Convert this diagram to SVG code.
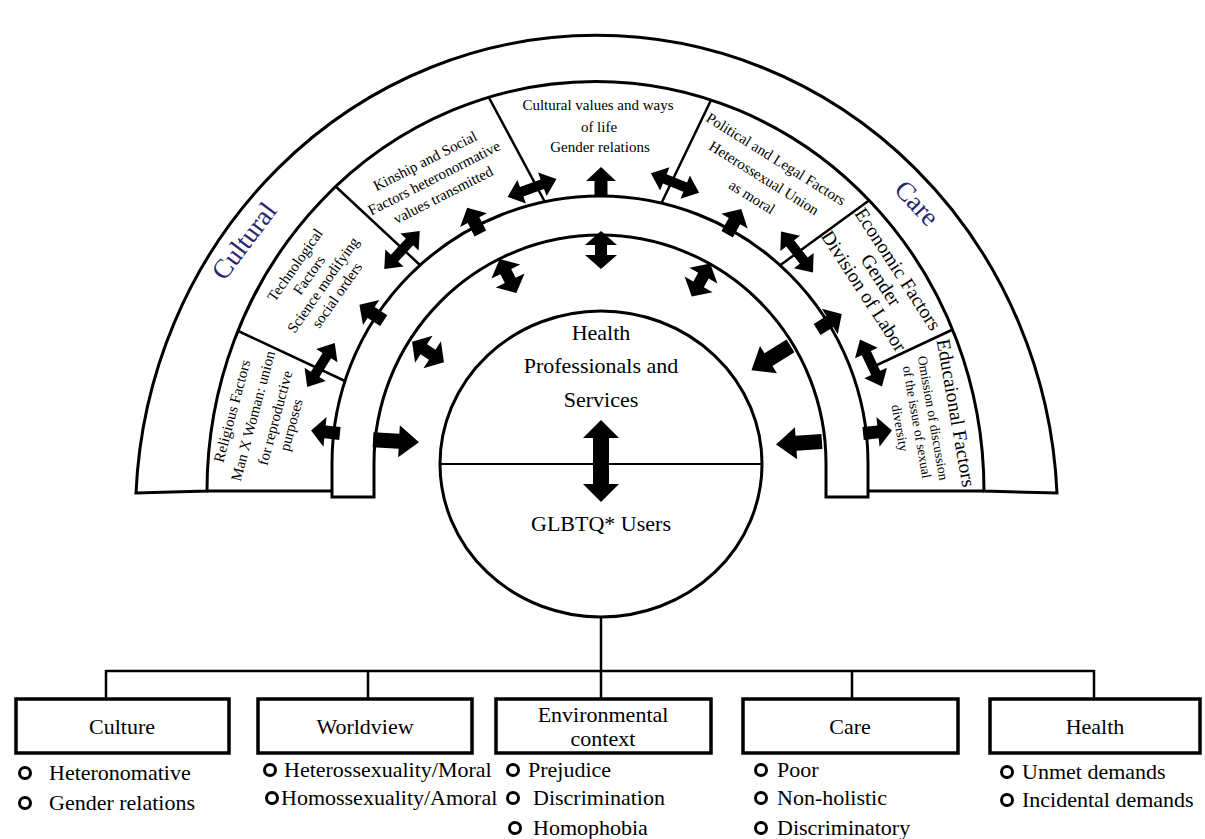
<svg xmlns="http://www.w3.org/2000/svg" xmlns:xlink="http://www.w3.org/1999/xlink" width="1205" height="839" viewBox="0 0 1205 839">
<style>
text{font-family:"Liberation Serif","Times New Roman",serif;fill:#000;}
.f15{font-size:15px;text-anchor:middle;}
.f13{font-size:13.5px;text-anchor:middle;}
.f19{font-size:19.5px;text-anchor:middle;}
.f22{font-size:22px;}
.mid{text-anchor:middle;}
.lbl{font-size:27px;text-anchor:middle;fill:#27276f;}
.ln{fill:none;stroke:#000;stroke-width:3;}
.ln2{fill:none;stroke:#000;stroke-width:2.5;}
.shape{fill:#fff;stroke:#000;stroke-width:3;}
.box{fill:#fff;stroke:#000;stroke-width:3.5;}
.bul{fill:none;stroke:#000;stroke-width:3;}
.arr{fill:#000;}
</style>
<defs>
<path id="sgl" d="M-14,-6.5 H1 V-15 L15,0 L1,15 V6.5 H-14 Z"/>
<path id="sglL" d="M-23,-7.5 H3 V-16 L23,0 L3,16 V7.5 H-23 Z"/>
<path id="dbl" d="M-26,0 L-11,-12.5 V-5 H11 V-12.5 L26,0 L11,12.5 V5 H-11 V12.5 Z"/>
<path id="dblS" d="M-19,0 L-5,-16 V-6 H5 V-16 L19,0 L5,16 V6 H-5 V16 Z"/>
<path id="dblC" d="M0,-41 L18,-23 H8 V23 H18 L0,41 L-18,23 H-8 V-23 H-18 Z"/>
</defs>
<rect width="1205" height="839" fill="#fff"/>

<g id="factor-dividers">
<line class="ln2" x1="345" y1="381" x2="236" y2="330"/>
<line class="ln2" x1="421" y1="266" x2="333" y2="184"/>
<line class="ln2" x1="546" y1="204" x2="487" y2="94"/>
<line class="ln2" x1="661" y1="204" x2="713" y2="96"/>
<line class="ln2" x1="775" y1="269" x2="871" y2="199"/>
<line class="ln2" x1="877" y1="365" x2="956" y2="328"/>
<line class="ln" x1="207" y1="491" x2="333" y2="491"/>
<line class="ln" x1="867" y1="491" x2="984" y2="491"/>
</g>

<g id="outer-ring">
<path class="shape" d="M136,493 A461,480 0 0 1 1057,493 L984,491 A388,409 0 0 0 207,491 Z"/>
<text class="lbl" transform="translate(244,241) rotate(-53)" y="9">Cultural</text>
<text class="lbl" transform="translate(917,203) rotate(47)" y="9">Care</text>
</g>

<g id="band">
<path class="shape" d="M332,497 V463 A268,267 0 0 1 868,463 V497 H826 V463 A226,228 0 0 0 374,463 V497 Z"/>
</g>

<g id="factor-religious">
<text class="f15" transform="translate(232,411) rotate(-75)" y="5">Religious Factors</text>
<text class="f15" transform="translate(253,416) rotate(-75)" y="5">Man X Woman: union</text>
<text class="f15" transform="translate(275,418) rotate(-75)" y="5">for reproductive</text>
<text class="f15" transform="translate(291,425) rotate(-75)" y="5">purposes</text>
</g>
<g id="factor-technological">
<text class="f15" transform="translate(295,265) rotate(-55)" y="5">Technological</text>
<text class="f15" transform="translate(309,275) rotate(-55)" y="5">Factors</text>
<text class="f15" transform="translate(323,285) rotate(-55)" y="5">Science modifying</text>
<text class="f15" transform="translate(337,295) rotate(-55)" y="5">social orders</text>
</g>
<g id="factor-kinship">
<text class="f15" transform="translate(425,161) rotate(-27)" y="5">Kinship and Social</text>
<text class="f15" transform="translate(434,178) rotate(-27)" y="5">Factors heteronormative</text>
<text class="f15" transform="translate(443,195) rotate(-27)" y="5">values transmitted</text>
</g>
<g id="factor-cultural-values">
<text class="f15" x="598" y="110">Cultural values and ways</text>
<text class="f15" x="599" y="132">of life</text>
<text class="f15" x="600" y="152">Gender relations</text>
</g>
<g id="factor-political">
<text class="f15" transform="translate(776,159) rotate(32)" y="5">Political and Legal Factors</text>
<text class="f15" transform="translate(764,178) rotate(32)" y="5">Heterossexual Union</text>
<text class="f15" transform="translate(752,197) rotate(32)" y="5">as moral</text>
</g>
<g id="factor-economic">
<text class="f19" transform="translate(898,269) rotate(57)" y="6.5">Economic Factors</text>
<text class="f19" transform="translate(881,280) rotate(57)" y="6.5">Gender</text>
<text class="f19" transform="translate(864,291) rotate(57)" y="6.5">Division of Labor</text>
</g>
<g id="factor-educational">
<text class="f19" transform="translate(956,413) rotate(80)" y="6.5">Educaional Factors</text>
<text class="f13" transform="translate(933,418) rotate(80)" y="4.5">Omission of discussion</text>
<text class="f13" transform="translate(917,422) rotate(80)" y="4.5">of the issue of sexual</text>
<text class="f13" transform="translate(900,428) rotate(80)" y="4.5">diversity</text>
</g>

<g id="center-circle">
<ellipse class="shape" cx="601" cy="464" rx="161" ry="153" stroke-width="2.5"/>
<line x1="440" y1="464" x2="762" y2="464" stroke="#000" stroke-width="2"/>
<text class="f22 mid" x="601" y="340">Health</text>
<text class="f22 mid" x="601" y="373">Professionals and</text>
<text class="f22 mid" x="601" y="407">Services</text>
<text class="f22 mid" x="601" y="531">GLBTQ* Users</text>
</g>

<g id="connectors">
<g class="arr">
<use href="#sgl" transform="translate(326,432) rotate(186)"/>
<use href="#sgl" transform="translate(372,313) rotate(-147)"/>
<use href="#sgl" transform="translate(474,221) rotate(-117)"/>
<use href="#sgl" transform="translate(601,182) rotate(-90)"/>
<use href="#sgl" transform="translate(734,222) rotate(-61)"/>
<use href="#sgl" transform="translate(829,322) rotate(-32)"/>
<use href="#sgl" transform="translate(877,432) rotate(-6)"/>
<use href="#dbl" transform="translate(321,365) rotate(-58)"/>
<use href="#dbl" transform="translate(402,250) rotate(-47)"/>
<use href="#dbl" transform="translate(532,188) rotate(-20)"/>
<use href="#dbl" transform="translate(675,183) rotate(22)"/>
<use href="#dbl" transform="translate(797,252) rotate(52)"/>
<use href="#dbl" transform="translate(871,363) rotate(65)"/>
<use href="#sglL" transform="translate(396,441) rotate(3)"/>
<use href="#dblS" transform="translate(428,352) rotate(33)"/>
<use href="#dblS" transform="translate(508,276) rotate(64)"/>
<use href="#dblS" transform="translate(601,250) rotate(90)"/>
<use href="#dblS" transform="translate(701,280) rotate(119)"/>
<use href="#sglL" transform="translate(771,358) rotate(148)"/>
<use href="#sglL" transform="translate(799,443) rotate(176)"/>
<use href="#dblC" transform="translate(601,461)"/>
</g>
<g class="ln2">
<line x1="601" y1="617" x2="601" y2="671"/>
<line x1="106" y1="671" x2="1094" y2="671"/>
<line x1="106" y1="670" x2="106" y2="699"/>
<line x1="368" y1="670" x2="368" y2="699"/>
<line x1="601" y1="670" x2="601" y2="699"/>
<line x1="852" y1="670" x2="852" y2="699"/>
<line x1="1094" y1="670" x2="1094" y2="699"/>
</g>
</g>

<g id="box-culture">
<rect class="box" x="16" y="699" width="213" height="54"/>
<text class="f22 mid" x="122" y="734">Culture</text>
<circle class="bul" cx="25" cy="773" r="5.5"/>
<text class="f22" x="49" y="780">Heteronomative</text>
<circle class="bul" cx="25" cy="803" r="5.5"/>
<text class="f22" x="49" y="810">Gender relations</text>
</g>
<g id="box-worldview">
<rect class="box" x="258" y="699" width="214" height="54"/>
<text class="f22 mid" x="365" y="734">Worldview</text>
<circle class="bul" cx="270" cy="770" r="5.5"/>
<text class="f22" x="284" y="777">Heterossexuality/Moral</text>
<circle class="bul" cx="272" cy="798" r="5.5"/>
<text class="f22" x="281" y="805">Homossexuality/Amoral</text>
</g>
<g id="box-environmental">
<rect class="box" x="496" y="699" width="215" height="54"/>
<text class="f22 mid" x="603" y="722">Environmental</text>
<text class="f22 mid" x="603" y="746">context</text>
<circle class="bul" cx="513" cy="770" r="5.5"/>
<text class="f22" x="528" y="777">Prejudice</text>
<circle class="bul" cx="513" cy="798" r="5.5"/>
<text class="f22" x="533" y="805">Discrimination</text>
<circle class="bul" cx="515" cy="828" r="5.5"/>
<text class="f22" x="533" y="835">Homophobia</text>
</g>
<g id="box-care">
<rect class="box" x="743" y="699" width="215" height="54"/>
<text class="f22 mid" x="850" y="734">Care</text>
<circle class="bul" cx="761" cy="770" r="5.5"/>
<text class="f22" x="777" y="777">Poor</text>
<circle class="bul" cx="761" cy="798" r="5.5"/>
<text class="f22" x="777" y="805">Non-holistic</text>
<circle class="bul" cx="761" cy="828" r="5.5"/>
<text class="f22" x="777" y="835">Discriminatory</text>
</g>
<g id="box-health">
<rect class="box" x="990" y="699" width="210" height="54"/>
<text class="f22 mid" x="1095" y="734">Health</text>
<circle class="bul" cx="1007" cy="772" r="5.5"/>
<text class="f22" x="1022" y="779">Unmet demands</text>
<circle class="bul" cx="1007" cy="800" r="5.5"/>
<text class="f22" x="1022" y="807">Incidental demands</text>
</g>
</svg>
